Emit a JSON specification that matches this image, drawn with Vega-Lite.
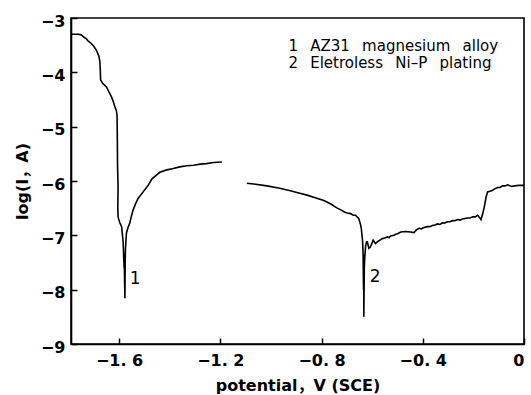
{
  "$schema": "https://vega.github.io/schema/vega-lite/v6.json",
  "width": 453,
  "height": 326,
  "autosize": {"type": "none"},
  "padding": {"left": 71, "top": 18, "right": 7, "bottom": 51},
  "background": "white",
  "config": {
    "font": "DejaVu Sans, Noto Sans CJK SC",
    "view": {"stroke": "black", "strokeWidth": 1.6},
    "axis": {
      "domainColor": "black",
      "domainWidth": 1.6,
      "tickColor": "black",
      "tickWidth": 1.5,
      "tickSize": -6,
      "grid": false,
      "labelFont": "DejaVu Sans, Noto Sans CJK SC",
      "labelFontSize": 16,
      "labelFontWeight": "bold",
      "labelColor": "black",
      "titleFont": "DejaVu Sans, Noto Sans CJK SC",
      "titleFontSize": 16,
      "titleFontWeight": "bold",
      "titleColor": "black"
    }
  },
  "datasets": {
    "curves": [
      {"curve": 1, "potential": -1.791, "logI": -3.30},
      {"curve": 1, "potential": -1.760, "logI": -3.30},
      {"curve": 1, "potential": -1.749, "logI": -3.31},
      {"curve": 1, "potential": -1.740, "logI": -3.35},
      {"curve": 1, "potential": -1.730, "logI": -3.38},
      {"curve": 1, "potential": -1.723, "logI": -3.42},
      {"curve": 1, "potential": -1.712, "logI": -3.46},
      {"curve": 1, "potential": -1.700, "logI": -3.52},
      {"curve": 1, "potential": -1.690, "logI": -3.59},
      {"curve": 1, "potential": -1.680, "logI": -3.70},
      {"curve": 1, "potential": -1.676, "logI": -3.80},
      {"curve": 1, "potential": -1.674, "logI": -3.98},
      {"curve": 1, "potential": -1.673, "logI": -4.14},
      {"curve": 1, "potential": -1.665, "logI": -4.20},
      {"curve": 1, "potential": -1.650, "logI": -4.27},
      {"curve": 1, "potential": -1.640, "logI": -4.36},
      {"curve": 1, "potential": -1.630, "logI": -4.45},
      {"curve": 1, "potential": -1.622, "logI": -4.55},
      {"curve": 1, "potential": -1.617, "logI": -4.63},
      {"curve": 1, "potential": -1.611, "logI": -4.70},
      {"curve": 1, "potential": -1.608, "logI": -4.79},
      {"curve": 1, "potential": -1.607, "logI": -5.20},
      {"curve": 1, "potential": -1.606, "logI": -5.74},
      {"curve": 1, "potential": -1.604, "logI": -6.10},
      {"curve": 1, "potential": -1.605, "logI": -6.50},
      {"curve": 1, "potential": -1.604, "logI": -6.66},
      {"curve": 1, "potential": -1.598, "logI": -6.76},
      {"curve": 1, "potential": -1.590, "logI": -6.84},
      {"curve": 1, "potential": -1.584, "logI": -7.12},
      {"curve": 1, "potential": -1.580, "logI": -7.60},
      {"curve": 1, "potential": -1.583, "logI": -7.25},
      {"curve": 1, "potential": -1.579, "logI": -7.62},
      {"curve": 1, "potential": -1.577, "logI": -8.16},
      {"curve": 1, "potential": -1.576, "logI": -7.50},
      {"curve": 1, "potential": -1.575, "logI": -7.27},
      {"curve": 1, "potential": -1.571, "logI": -6.96},
      {"curve": 1, "potential": -1.565, "logI": -6.86},
      {"curve": 1, "potential": -1.558, "logI": -6.78},
      {"curve": 1, "potential": -1.552, "logI": -6.66},
      {"curve": 1, "potential": -1.545, "logI": -6.54},
      {"curve": 1, "potential": -1.535, "logI": -6.42},
      {"curve": 1, "potential": -1.525, "logI": -6.32},
      {"curve": 1, "potential": -1.505, "logI": -6.20},
      {"curve": 1, "potential": -1.485, "logI": -6.08},
      {"curve": 1, "potential": -1.470, "logI": -5.96},
      {"curve": 1, "potential": -1.455, "logI": -5.90},
      {"curve": 1, "potential": -1.439, "logI": -5.84},
      {"curve": 1, "potential": -1.415, "logI": -5.80},
      {"curve": 1, "potential": -1.386, "logI": -5.77},
      {"curve": 1, "potential": -1.360, "logI": -5.74},
      {"curve": 1, "potential": -1.333, "logI": -5.72},
      {"curve": 1, "potential": -1.305, "logI": -5.71},
      {"curve": 1, "potential": -1.280, "logI": -5.69},
      {"curve": 1, "potential": -1.255, "logI": -5.68},
      {"curve": 1, "potential": -1.227, "logI": -5.66},
      {"curve": 1, "potential": -1.194, "logI": -5.65},

      {"curve": 2, "potential": -1.095, "logI": -6.04},
      {"curve": 2, "potential": -1.060, "logI": -6.06},
      {"curve": 2, "potential": -1.016, "logI": -6.09},
      {"curve": 2, "potential": -0.970, "logI": -6.13},
      {"curve": 2, "potential": -0.923, "logI": -6.18},
      {"curve": 2, "potential": -0.890, "logI": -6.22},
      {"curve": 2, "potential": -0.857, "logI": -6.26},
      {"curve": 2, "potential": -0.825, "logI": -6.31},
      {"curve": 2, "potential": -0.791, "logI": -6.36},
      {"curve": 2, "potential": -0.765, "logI": -6.42},
      {"curve": 2, "potential": -0.738, "logI": -6.50},
      {"curve": 2, "potential": -0.720, "logI": -6.54},
      {"curve": 2, "potential": -0.710, "logI": -6.57},
      {"curve": 2, "potential": -0.699, "logI": -6.59},
      {"curve": 2, "potential": -0.685, "logI": -6.60},
      {"curve": 2, "potential": -0.675, "logI": -6.63},
      {"curve": 2, "potential": -0.666, "logI": -6.63},
      {"curve": 2, "potential": -0.653, "logI": -6.69},
      {"curve": 2, "potential": -0.646, "logI": -6.80},
      {"curve": 2, "potential": -0.643, "logI": -6.87},
      {"curve": 2, "potential": -0.638, "logI": -7.10},
      {"curve": 2, "potential": -0.636, "logI": -7.30},
      {"curve": 2, "potential": -0.634, "logI": -8.00},
      {"curve": 2, "potential": -0.635, "logI": -7.35},
      {"curve": 2, "potential": -0.633, "logI": -8.05},
      {"curve": 2, "potential": -0.633, "logI": -8.50},
      {"curve": 2, "potential": -0.631, "logI": -7.60},
      {"curve": 2, "potential": -0.629, "logI": -7.40},
      {"curve": 2, "potential": -0.626, "logI": -7.20},
      {"curve": 2, "potential": -0.622, "logI": -7.12},
      {"curve": 2, "potential": -0.619, "logI": -7.12},
      {"curve": 2, "potential": -0.613, "logI": -7.24},
      {"curve": 2, "potential": -0.608, "logI": -7.22},
      {"curve": 2, "potential": -0.604, "logI": -7.18},
      {"curve": 2, "potential": -0.596, "logI": -7.09},
      {"curve": 2, "potential": -0.587, "logI": -7.15},
      {"curve": 2, "potential": -0.580, "logI": -7.12},
      {"curve": 2, "potential": -0.573, "logI": -7.10},
      {"curve": 2, "potential": -0.566, "logI": -7.08},
      {"curve": 2, "potential": -0.560, "logI": -7.06},
      {"curve": 2, "potential": -0.550, "logI": -7.05},
      {"curve": 2, "potential": -0.540, "logI": -7.03},
      {"curve": 2, "potential": -0.533, "logI": -7.04},
      {"curve": 2, "potential": -0.527, "logI": -7.01},
      {"curve": 2, "potential": -0.514, "logI": -7.00},
      {"curve": 2, "potential": -0.507, "logI": -6.98},
      {"curve": 2, "potential": -0.500, "logI": -6.97},
      {"curve": 2, "potential": -0.487, "logI": -6.94},
      {"curve": 2, "potential": -0.468, "logI": -6.93},
      {"curve": 2, "potential": -0.448, "logI": -6.94},
      {"curve": 2, "potential": -0.435, "logI": -6.95},
      {"curve": 2, "potential": -0.425, "logI": -6.90},
      {"curve": 2, "potential": -0.415, "logI": -6.87},
      {"curve": 2, "potential": -0.405, "logI": -6.88},
      {"curve": 2, "potential": -0.398, "logI": -6.86},
      {"curve": 2, "potential": -0.382, "logI": -6.84},
      {"curve": 2, "potential": -0.372, "logI": -6.84},
      {"curve": 2, "potential": -0.362, "logI": -6.82},
      {"curve": 2, "potential": -0.352, "logI": -6.81},
      {"curve": 2, "potential": -0.342, "logI": -6.79},
      {"curve": 2, "potential": -0.332, "logI": -6.80},
      {"curve": 2, "potential": -0.322, "logI": -6.77},
      {"curve": 2, "potential": -0.312, "logI": -6.77},
      {"curve": 2, "potential": -0.302, "logI": -6.75},
      {"curve": 2, "potential": -0.292, "logI": -6.75},
      {"curve": 2, "potential": -0.282, "logI": -6.73},
      {"curve": 2, "potential": -0.272, "logI": -6.73},
      {"curve": 2, "potential": -0.263, "logI": -6.71},
      {"curve": 2, "potential": -0.253, "logI": -6.72},
      {"curve": 2, "potential": -0.243, "logI": -6.70},
      {"curve": 2, "potential": -0.233, "logI": -6.69},
      {"curve": 2, "potential": -0.223, "logI": -6.68},
      {"curve": 2, "potential": -0.213, "logI": -6.68},
      {"curve": 2, "potential": -0.203, "logI": -6.66},
      {"curve": 2, "potential": -0.193, "logI": -6.66},
      {"curve": 2, "potential": -0.183, "logI": -6.63},
      {"curve": 2, "potential": -0.176, "logI": -6.67},
      {"curve": 2, "potential": -0.170, "logI": -6.71},
      {"curve": 2, "potential": -0.163, "logI": -6.60},
      {"curve": 2, "potential": -0.157, "logI": -6.48},
      {"curve": 2, "potential": -0.150, "logI": -6.30},
      {"curve": 2, "potential": -0.144, "logI": -6.20},
      {"curve": 2, "potential": -0.134, "logI": -6.19},
      {"curve": 2, "potential": -0.124, "logI": -6.17},
      {"curve": 2, "potential": -0.114, "logI": -6.14},
      {"curve": 2, "potential": -0.104, "logI": -6.12},
      {"curve": 2, "potential": -0.095, "logI": -6.12},
      {"curve": 2, "potential": -0.085, "logI": -6.09},
      {"curve": 2, "potential": -0.075, "logI": -6.09},
      {"curve": 2, "potential": -0.065, "logI": -6.07},
      {"curve": 2, "potential": -0.050, "logI": -6.10},
      {"curve": 2, "potential": -0.038, "logI": -6.09},
      {"curve": 2, "potential": -0.020, "logI": -6.08},
      {"curve": 2, "potential": 0.0, "logI": -6.08}
    ],
    "notes": [
      {"potential": -0.931, "logI": -3.602, "text": "1\u2002 AZ31\u2002 magnesium\u2002 alloy", "kind": "legend"},
      {"potential": -0.931, "logI": -3.915, "text": "2\u2002 Eletroless\u2002 Ni–P\u2002 plating", "kind": "legend"},
      {"potential": -1.536, "logI": -7.80, "text": "1", "kind": "tag"},
      {"potential": -0.588, "logI": -7.76, "text": "2", "kind": "tag"}
    ]
  },
  "encoding": {
    "x": {
      "field": "potential",
      "type": "quantitative",
      "scale": {"domain": [-1.79, 0], "nice": false, "zero": false},
      "axis": {
        "values": [-1.6, -1.2, -0.8, -0.4, 0],
        "labelExpr": "datum.value == 0 ? '0' : replace(format(datum.value, '.1f'), '.', '. ')",
        "labelPadding": 14,
        "title": "potential，V (SCE)",
        "titlePadding": 9
      }
    },
    "y": {
      "field": "logI",
      "type": "quantitative",
      "scale": {"domain": [-9, -3], "nice": false, "zero": false},
      "axis": {
        "values": [-9, -8, -7, -6, -5, -4, -3],
        "labelPadding": 12,
        "labelOffset": 3,
        "title": "log(I，A)",
        "titlePadding": 10
      }
    }
  },
  "layer": [
    {
      "data": {"name": "curves"},
      "mark": {"type": "line", "color": "black", "strokeWidth": 1.6, "clip": true},
      "encoding": {
        "detail": {"field": "curve", "type": "nominal"},
        "order": {"value": null}
      }
    },
    {
      "data": {"name": "notes"},
      "transform": [{"filter": "datum.kind == 'legend'"}],
      "mark": {"type": "text", "align": "left", "baseline": "alphabetic", "fontSize": 15, "color": "black"},
      "encoding": {"text": {"field": "text"}}
    },
    {
      "data": {"name": "notes"},
      "transform": [{"filter": "datum.kind == 'tag'"}],
      "mark": {"type": "text", "align": "center", "baseline": "middle", "fontSize": 17, "color": "black"},
      "encoding": {"text": {"field": "text"}}
    }
  ]
}
